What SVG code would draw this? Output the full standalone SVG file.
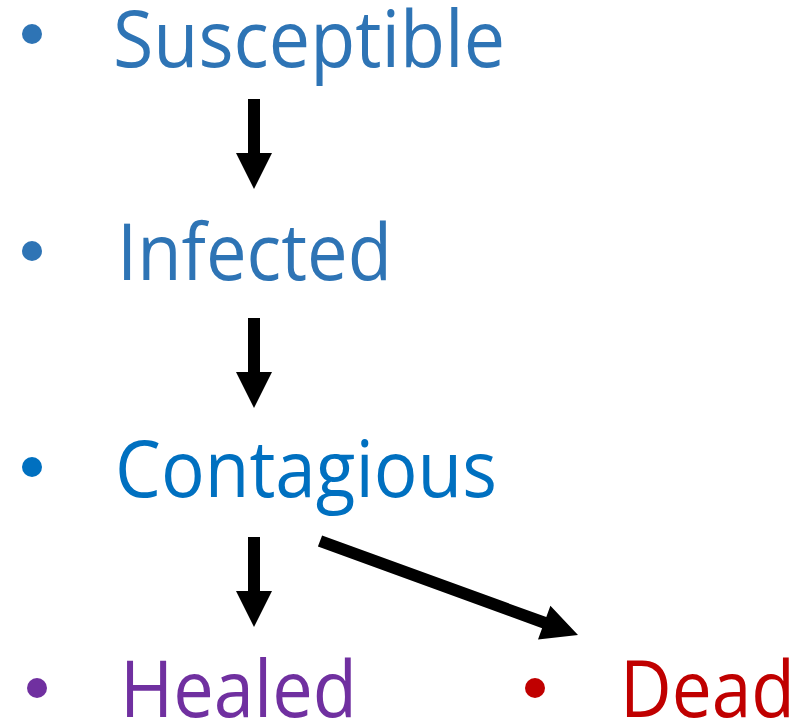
<svg xmlns="http://www.w3.org/2000/svg" width="811" height="721" viewBox="0 0 811 721">
<style>
text{font-family:"Open Sans","Noto Sans",sans-serif;font-size:79px}
.b{fill:#2E74B5}.c{fill:#0070C0}.h{fill:#7030A0}.d{fill:#C00000}
.arrow{fill:#000}
</style>
<rect width="811" height="721" fill="#fff"/>
<g id="susceptible" class="b">
<circle cx="32" cy="34" r="10"/>
<text x="113" y="67" textLength="392" lengthAdjust="spacingAndGlyphs">Susceptible</text>
</g>
<g id="infected" class="b">
<circle cx="32" cy="251" r="10"/>
<text x="117" y="280" textLength="275" lengthAdjust="spacingAndGlyphs">Infected</text>
</g>
<g id="contagious" class="c">
<circle cx="32" cy="467" r="10"/>
<text x="115" y="497" textLength="382" lengthAdjust="spacingAndGlyphs">Contagious</text>
</g>
<g id="healed" class="h">
<circle cx="37" cy="688" r="10"/>
<text x="120" y="717" textLength="237" lengthAdjust="spacingAndGlyphs">Healed</text>
</g>
<g id="dead" class="d">
<circle cx="535" cy="688" r="10"/>
<text x="620" y="717" textLength="175" lengthAdjust="spacingAndGlyphs">Dead</text>
</g>
<g id="connectors" class="arrow">
<polygon points="248,99 260,99 260,153 272,153 254,189 236,153 248,153"/>
<polygon points="248,318 260,318 260,372 272,372 254,408 236,372 248,372"/>
<polygon points="248,537 260,537 260,591 272,591 254,627 236,591 248,591"/>
<polygon points="322.1,535.4 546.3,617.1 550.4,605.8 578,635 538,639.6 542.1,628.3 317.9,546.6"/>
</g>
</svg>
